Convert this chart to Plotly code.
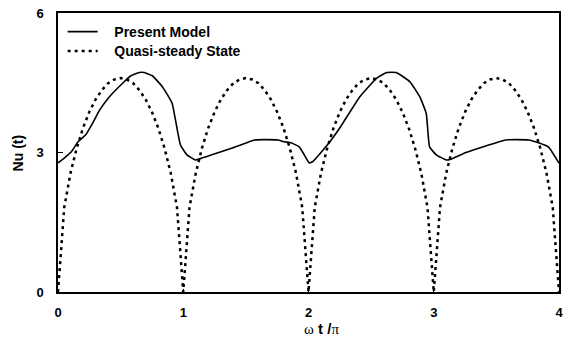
import plotly.graph_objects as go

# Present model
present_t = [0.00, 0.05, 0.108, 0.16, 0.221, 0.28, 0.332, 0.411, 0.516, 0.582, 0.648, 0.688,
             0.753, 0.832, 0.911, 0.938, 0.978, 1.03, 1.096, 1.149, 1.228, 1.386, 1.571, 1.755,
             1.808, 1.86, 1.926, 1.966, 2.005, 2.032, 2.15, 2.255, 2.41, 2.545, 2.625, 2.70,
             2.81, 2.888, 2.94, 2.967, 3.02, 3.10, 3.13, 3.257, 3.415, 3.573, 3.757, 3.836,
             3.915, 4.00]
present_nu = [2.78, 2.88, 3.02, 3.23, 3.38, 3.65, 3.91, 4.20, 4.49, 4.65, 4.72, 4.72,
              4.65, 4.42, 4.06, 3.70, 3.16, 2.95, 2.84, 2.88, 2.95, 3.09, 3.27, 3.27,
              3.23, 3.21, 3.12, 2.95, 2.78, 2.80, 3.16, 3.55, 4.20, 4.60, 4.72, 4.72,
              4.52, 4.20, 3.84, 3.12, 2.95, 2.84, 2.85, 3.00, 3.14, 3.27, 3.27, 3.21,
              3.12, 2.77]

quasi_t = [round(0.05 * i, 2) for i in range(81)]
quasi_nu = [0.00, 1.82, 2.56, 3.10, 3.53, 3.87, 4.14, 4.34, 4.49, 4.57, 4.60,
            4.57, 4.49, 4.34, 4.14, 3.87, 3.53, 3.10, 2.56, 1.82, 0.00,
            1.82, 2.56, 3.10, 3.53, 3.87, 4.14, 4.34, 4.49, 4.57, 4.60,
            4.57, 4.49, 4.34, 4.14, 3.87, 3.53, 3.10, 2.56, 1.82, 0.00,
            1.82, 2.56, 3.10, 3.53, 3.87, 4.14, 4.34, 4.49, 4.57, 4.60,
            4.57, 4.49, 4.34, 4.14, 3.87, 3.53, 3.10, 2.56, 1.82, 0.00,
            1.82, 2.56, 3.10, 3.53, 3.87, 4.14, 4.34, 4.49, 4.57, 4.60,
            4.57, 4.49, 4.34, 4.14, 3.87, 3.53, 3.10, 2.56, 1.82, 0.00]

x_ticks = [0, 1, 2, 3, 4]
y_ticks = [0, 3, 6]
series_names = ["Present Model", "Quasi-steady State"]

FONT = "Arial, 'Liberation Sans', sans-serif"
PAD = "\u00a0\u00a0\u00a0"

fig = go.Figure()
fig.add_trace(go.Scatter(x=present_t, y=present_nu, mode="lines",
                         name=f"{PAD}<b>{series_names[0]}</b>", legend="legend",
                         line=dict(color="black", width=1.6, shape="spline", smoothing=0.4)))
fig.add_trace(go.Scatter(x=quasi_t, y=quasi_nu, mode="lines",
                         name=f"{PAD}<b>{series_names[1]}</b>", legend="legend2",
                         line=dict(color="black", width=2.5, dash="3px,4px")))

leg_common = dict(xanchor="left", yanchor="top", bgcolor="rgba(0,0,0,0)",
                  font=dict(size=14, family=FONT), itemwidth=30, borderwidth=0)

fig.update_layout(
    width=565, height=346,
    margin=dict(l=58, r=2, t=13, b=54),
    paper_bgcolor="white", plot_bgcolor="white",
    font=dict(family=FONT, size=13, color="black"),
    showlegend=True,
    legend=dict(x=0.0093, y=0.989, **leg_common),
    legend2=dict(x=0.0093, y=0.920, **leg_common),
    xaxis=dict(range=[0, 4], tickvals=x_ticks, ticktext=[f"<b>{v}</b>" for v in x_ticks],
               showgrid=False, zeroline=False, showline=True, linecolor="black", linewidth=1.5,
               mirror=True, ticks="inside", ticklen=3, tickcolor="black",
               ticklabelstandoff=8, ticklabeloverflow="allow"),
    yaxis=dict(range=[0, 6], tickvals=y_ticks, ticktext=[f"<b>{v}</b>" for v in y_ticks],
               showgrid=False, zeroline=False, showline=True, linecolor="black", linewidth=1.5,
               mirror=True, ticks="inside", ticklen=5, tickcolor="black",
               ticklabelstandoff=10),
    annotations=[
        dict(text="<b>Nu (t)</b>", x=-0.08, xref="paper", y=0.5, yref="paper", showarrow=False,
             textangle=-90, font=dict(size=14, family=FONT), xanchor="center", yanchor="middle"),
        dict(text="<span style='font-family:\"Liberation Serif\", \"Times New Roman\", serif'>ω</span> <b>t /</b><span style='font-family:\"Liberation Serif\", serif'>π</span>",
             x=0.525, xref="paper", y=-0.1326, yref="paper", showarrow=False,
             font=dict(size=15, family=FONT), xanchor="center", yanchor="middle"),
    ],
)
fig.write_html("out.html")
